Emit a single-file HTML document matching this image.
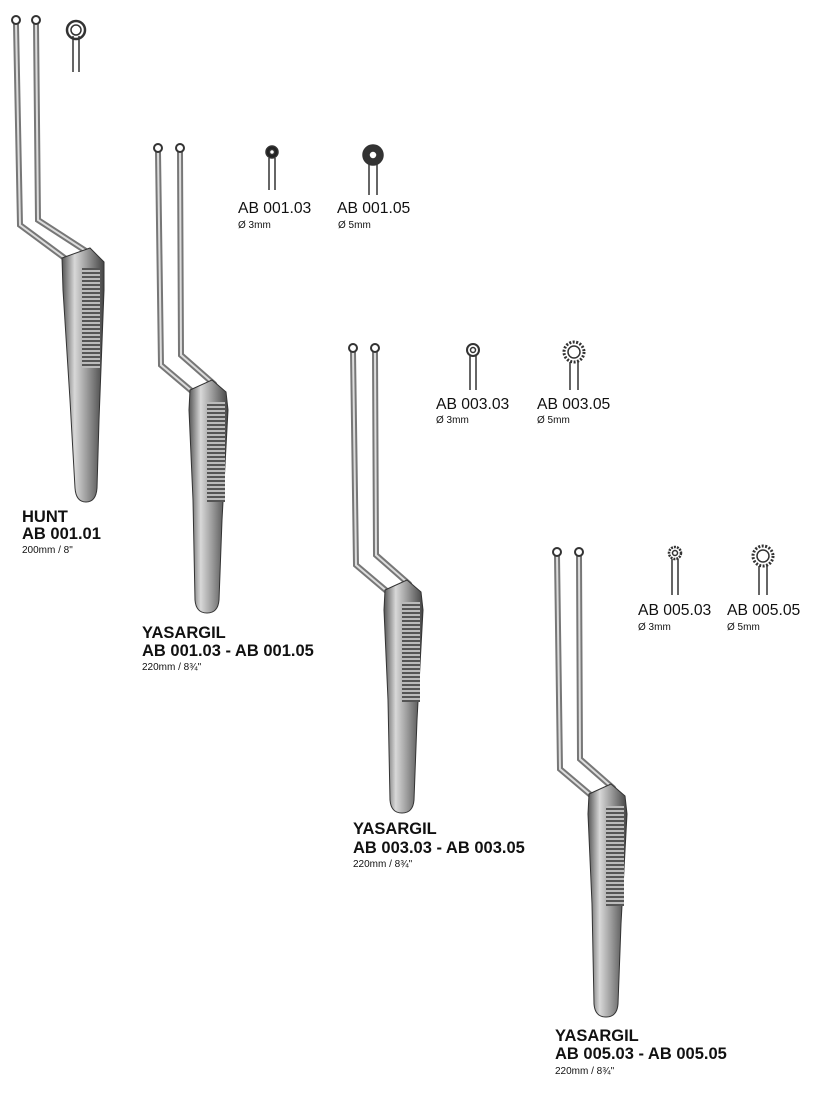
<!DOCTYPE html>
<html><head><meta charset="utf-8"><style>
html,body{margin:0;padding:0;background:#fff;}
#w{position:relative;width:826px;height:1101px;overflow:hidden;font-family:"Liberation Sans",Arial,sans-serif;color:#111;}
.t{position:absolute;white-space:nowrap;}
.b{font-weight:bold;font-size:16.5px;}
.r{font-size:15.7px;}
.s{font-size:10px;}
svg{position:absolute;left:0;top:0;}
</style></head><body><div id="w">
<svg width="826" height="1101" viewBox="0 0 826 1101">
<defs>
<linearGradient id="g" x1="0" x2="1" y1="0" y2="0">
<stop offset="0" stop-color="#555"/><stop offset="0.3" stop-color="#d8d8d8"/><stop offset="0.6" stop-color="#9a9a9a"/><stop offset="1" stop-color="#444"/>
</linearGradient>
<pattern id="ser" width="4" height="4" patternUnits="userSpaceOnUse"><rect width="4" height="4" fill="#bbb"/><rect width="4" height="2" fill="#555"/></pattern>
<g id="yas">
<polyline points="158,152 161,365 194,393 201,520" fill="none" stroke="#777" stroke-width="6"/>
<polyline points="158,152 161,365 194,393 201,520" fill="none" stroke="#ddd" stroke-width="2"/>
<polyline points="180,152 181,355 214,384 222,400" fill="none" stroke="#777" stroke-width="6"/>
<polyline points="180,152 181,355 214,384 222,400" fill="none" stroke="#ddd" stroke-width="2"/>
<path d="M190,390 L212,380 L226,392 L228,410 L222,520 L219,600 Q218,613 207,613 Q196,613 195,600 L193,500 L189,410 Z" fill="url(#g)" stroke="#333" stroke-width="1"/>
<rect x="207" y="402" width="18" height="100" fill="url(#ser)"/>
<circle cx="158" cy="148" r="4" fill="#fff" stroke="#333" stroke-width="2"/>
<circle cx="180" cy="148" r="4" fill="#fff" stroke="#333" stroke-width="2"/>
</g>
</defs>
<polyline points="16,24 20,225 70,262 80,400" fill="none" stroke="#777" stroke-width="6"/>
<polyline points="16,24 20,225 70,262 80,400" fill="none" stroke="#ddd" stroke-width="2"/>
<polyline points="36,24 38,220 92,255 100,270" fill="none" stroke="#777" stroke-width="6"/>
<polyline points="36,24 38,220 92,255 100,270" fill="none" stroke="#ddd" stroke-width="2"/>
<path d="M62,258 L90,248 L104,262 L104,290 L99,420 L97,488 Q96,502 86,502 Q76,502 75,488 L70,400 L63,290 Z" fill="url(#g)" stroke="#333"/>
<rect x="82" y="268" width="18" height="100" fill="url(#ser)"/>
<circle cx="16" cy="20" r="4" fill="#fff" stroke="#333" stroke-width="2"/>
<circle cx="36" cy="20" r="4" fill="#fff" stroke="#333" stroke-width="2"/>
<use href="#yas"/>
<use href="#yas" transform="translate(195,200)"/>
<use href="#yas" transform="translate(399,404)"/>
<g stroke="#333" fill="none" stroke-width="1.5">
<line x1="73" y1="36" x2="73" y2="72"/><line x1="79" y1="36" x2="79" y2="72"/><circle cx="76" cy="30" r="9" stroke-width="2.5"/><circle cx="76" cy="30" r="5"/>
<line x1="269" y1="158" x2="269" y2="190"/><line x1="275" y1="158" x2="275" y2="190"/><circle cx="272" cy="152" r="6" fill="#222"/><circle cx="272" cy="152" r="2.5" fill="#fff"/>
<line x1="369" y1="163" x2="369" y2="195"/><line x1="377" y1="163" x2="377" y2="195"/><circle cx="373" cy="155" r="10" fill="#333"/><circle cx="373" cy="155" r="4" fill="#fff"/>
<line x1="470" y1="356" x2="470" y2="390"/><line x1="476" y1="356" x2="476" y2="390"/><circle cx="473" cy="350" r="6" stroke-width="2"/><circle cx="473" cy="350" r="2.5"/>
<line x1="570" y1="362" x2="570" y2="390"/><line x1="578" y1="362" x2="578" y2="390"/><circle cx="574" cy="352" r="10" stroke-width="3" stroke-dasharray="2 1.5"/><circle cx="574" cy="352" r="6"/>
<line x1="672" y1="559" x2="672" y2="595"/><line x1="678" y1="559" x2="678" y2="595"/><circle cx="675" cy="553" r="6" stroke-width="2.5" stroke-dasharray="2 1"/><circle cx="675" cy="553" r="2.5"/>
<line x1="759" y1="566" x2="759" y2="595"/><line x1="767" y1="566" x2="767" y2="595"/><circle cx="763" cy="556" r="10" stroke-width="3" stroke-dasharray="2 1.5"/><circle cx="763" cy="556" r="6"/>
</g>
</svg>
<div class="t b" style="left:22px;top:508px">HUNT</div>
<div class="t b" style="left:22px;top:525px">AB 001.01</div>
<div class="t s" style="left:22px;top:545px">200mm / 8"</div>
<div class="t b" style="left:142px;top:624px">YASARGIL</div>
<div class="t b" style="left:142px;top:642px">AB 001.03 - AB 001.05</div>
<div class="t s" style="left:142px;top:662px">220mm / 8¾"</div>
<div class="t b" style="left:353px;top:820px">YASARGIL</div>
<div class="t b" style="left:353px;top:839px">AB 003.03 - AB 003.05</div>
<div class="t s" style="left:353px;top:859px">220mm / 8¾"</div>
<div class="t b" style="left:555px;top:1027px">YASARGIL</div>
<div class="t b" style="left:555px;top:1045px">AB 005.03 - AB 005.05</div>
<div class="t s" style="left:555px;top:1066px">220mm / 8¾"</div>
<div class="t r" style="left:238px;top:200px">AB 001.03</div>
<div class="t s" style="left:238px;top:220px">Ø 3mm</div>
<div class="t r" style="left:337px;top:200px">AB 001.05</div>
<div class="t s" style="left:338px;top:220px">Ø 5mm</div>
<div class="t r" style="left:436px;top:396px">AB 003.03</div>
<div class="t s" style="left:436px;top:415px">Ø 3mm</div>
<div class="t r" style="left:537px;top:396px">AB 003.05</div>
<div class="t s" style="left:537px;top:415px">Ø 5mm</div>
<div class="t r" style="left:638px;top:602px">AB 005.03</div>
<div class="t s" style="left:638px;top:622px">Ø 3mm</div>
<div class="t r" style="left:727px;top:602px">AB 005.05</div>
<div class="t s" style="left:727px;top:622px">Ø 5mm</div>
</div></body></html>
